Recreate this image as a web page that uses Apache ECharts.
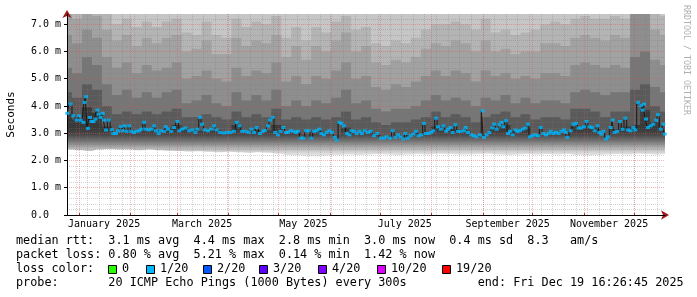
<!DOCTYPE html>
<html><head><meta charset="utf-8">
<script src="https://cdn.jsdelivr.net/npm/echarts@6/dist/echarts.min.js"></script>
<style>html,body{margin:0;padding:0;background:#fff}#c{width:697px;height:297px}</style>
</head><body><div id="c"></div>
<script>
// ---------- time frame ----------
const DAY = 86400000;
const START = Date.UTC(2024, 11, 24, 16, 26, 45);   // end - 360 days
const SPAN_DAYS = 360;
const Y_MAX = 7.375;

// ---------- axis ticks / labels ----------
const yTickValues = [0, 1, 2, 3, 4, 5, 6, 7];
const yTickLabels = ['0.0  ', '1.0 m', '2.0 m', '3.0 m', '4.0 m', '5.0 m', '6.0 m', '7.0 m'];
const yMinorValues = [0.2,0.4,0.6,0.8,1.2,1.4,1.6,1.8,2.2,2.4,2.6,2.8,3.2,3.4,3.6,3.8,4.2,4.4,4.6,4.8,5.2,5.4,5.6,5.8,6.2,6.4,6.6,6.8,7.2];
const monthStarts = ['2025-01-01','2025-02-01','2025-03-01','2025-04-01','2025-05-01','2025-06-01','2025-07-01','2025-08-01','2025-09-01','2025-10-01','2025-11-01','2025-12-01'];
const xLabelDates = ['2025-01-16','2025-03-16','2025-05-16','2025-07-16','2025-09-16','2025-11-16'];
const xLabelTexts = ['January 2025','March 2025','May 2025','July 2025','September 2025','November 2025'];
const firstMonday = '2024-12-30';

// ---------- median rtt (ms) ----------
const medDays = [0.2,2.2,3.8,5.8,7.2,8.2,9.8,10.6,11.4,12.6,13.8,14.7,15.9,17.1,18.3,19.1,20.3,21.5,22.3,23.5,25.1,26.9,27.9,29.5,30.7,32.3,33.5,34.7,35.9,37.5,38.7,40.3,41.9,43.6,44.8,46.4,47.6,49.2,50.8,52.4,53.6,55.2,56.4,58.4,
59.4,60.8,62.8,64.4,66.4,67.6,69.4,71.4,73.5,75.5,77.3,78.5,80.1,81.3,82.9,84.9,86.9,88.5,90.1,92.1,94.5,96.5,98.5,100.5,102.2,103.8,105.4,107.4,109.4,111.0,112.6,114.2,116.2,117.8,119.1,
121.0,122.2,123.8,125.4,127.0,128.6,130.2,131.8,133.1,134.7,136.3,137.9,139.1,140.7,142.3,143.9,145.5,147.1,148.7,150.3,151.9,153.1,154.7,156.3,157.9,159.5,161.1,162.4,164.0,165.2,166.8,168.4,170.0,171.2,172.8,174.4,176.0,177.6,179.3,
181.2,182.8,184.8,186.8,188.8,190.8,192.4,194.5,196.1,197.7,199.3,200.9,202.5,203.7,205.3,206.9,208.5,210.1,211.7,213.3,214.9,216.1,217.7,219.3,220.5,222.2,223.4,225.0,226.6,228.2,229.4,231.0,232.2,233.8,235.4,237.0,239.0,
240.0,241.4,243.4,245.0,246.6,248.6,250.2,251.0,252.6,254.3,255.9,257.1,258.7,260.3,261.5,262.7,264.3,265.5,266.7,268.3,269.9,271.1,272.7,274.3,275.9,277.5,278.7,280.3,281.9,283.6,285.2,286.8,288.4,290.0,291.2,292.8,294.4,296.0,297.6,299.2,
300.2,301.2,303.2,304.8,306.4,308.0,309.6,311.2,312.8,314.5,316.1,317.7,319.3,320.5,321.7,322.9,324.5,325.7,327.3,328.5,329.7,331.3,332.9,334.5,336.1,337.7,339.3,340.9,342.1,343.8,345.4,346.6,347.4,348.6,349.8,351.4,353.0,354.6,355.8,357.4,359.0,359.8];
const medMs = [3.73,4.07,3.64,3.48,3.64,3.48,3.40,4.13,4.34,3.18,3.58,3.43,3.43,3.52,3.85,3.70,3.58,3.73,3.48,3.12,3.48,3.13,2.99,2.99,3.09,3.24,3.09,3.27,3.07,3.27,3.07,3.03,3.07,3.09,3.15,3.40,3.15,3.12,3.15,3.27,3.09,2.99,3.09,3.07,
3.24,3.15,3.07,3.21,3.43,3.09,3.15,3.19,3.09,3.12,3.03,3.15,3.58,3.33,3.12,3.09,3.15,3.27,3.12,3.03,3.01,3.03,3.03,3.07,3.40,3.27,3.07,3.07,3.03,3.15,3.03,3.21,2.99,3.07,3.10,
3.27,3.48,3.58,3.03,2.94,3.07,3.21,3.03,3.03,3.09,3.07,3.03,3.07,2.82,2.82,3.09,3.09,2.82,3.07,3.09,3.15,2.99,2.94,3.03,3.09,3.03,2.85,2.75,3.40,3.36,3.27,2.99,2.94,3.09,3.07,2.99,3.07,2.99,3.09,
3.03,3.07,2.91,2.99,2.82,2.82,2.87,2.82,3.09,2.85,2.94,2.87,2.79,2.99,2.82,2.91,2.97,3.07,2.91,2.94,3.36,2.99,2.99,3.03,3.09,3.55,3.24,3.15,3.27,3.07,3.15,3.21,3.03,3.31,3.07,3.07,3.09,
3.21,3.03,2.94,2.91,2.87,2.94,3.82,2.85,2.94,3.03,3.19,3.33,3.15,3.31,3.40,3.24,3.46,2.99,3.07,2.94,3.12,3.07,3.09,3.15,3.19,3.33,2.87,2.91,2.94,2.91,3.21,2.99,2.94,2.99,3.07,2.99,3.03,2.99,3.07,3.12,
3.03,2.85,3.09,3.33,3.36,3.19,3.19,3.24,3.43,3.24,3.21,3.09,3.27,3.03,2.97,3.07,2.79,2.87,3.21,3.48,3.03,3.07,3.43,3.15,3.55,3.12,3.09,3.21,3.12,4.13,4.01,3.85,4.07,3.52,3.21,3.27,3.33,3.48,3.68,3.15,3.33,2.97];

// ---------- smoke (ping spread boundaries, ms) ----------
const smokeDays = [0,6,12,18,24,30,36,42,48,54,60,66,72,78,84,90,96,102,108,114,120,126,132,138,144,150,156,162,168,174,180,186,192,198,204,210,216,222,228,234,240,246,252,258,264,270,276,282,288,294,300,306,312,318,324,330,336,342,348,354,360];
const smokeLo = [2.40,2.38,2.35,2.40,2.42,2.40,2.40,2.38,2.40,2.38,2.36,
 2.35,2.33,2.34,2.32,2.30,2.32,2.30,2.28,2.30,
 2.28,2.25,2.20,2.18,2.15,2.15,2.18,2.20,2.22,2.20,
 2.22,2.24,2.22,2.20,2.22,2.24,2.22,2.25,2.24,2.22,
 2.22,2.24,2.25,2.22,2.20,2.22,2.24,2.22,2.24,2.22,
 2.24,2.20,2.18,2.20,2.22,2.24,2.22,2.25,2.24,2.22,2.24];
const smokeCore = [3.70,3.50,3.95,3.75,3.25,3.02,3.12,3.07,3.15,3.12,3.18,
 3.30,3.15,3.10,3.10,3.12,3.03,3.30,3.07,3.12,
 3.10,3.30,3.05,3.05,2.95,3.08,3.03,2.92,3.20,3.03,
 3.05,2.95,2.85,2.92,2.92,3.02,3.05,3.25,3.12,3.15,
 3.10,2.90,2.95,3.18,3.30,3.08,3.20,2.92,2.98,3.02,
 3.00,3.25,3.30,3.15,2.88,3.15,3.25,3.30,3.85,3.40,3.10];
const smokeHiA = [4.5,4.3,4.8,4.6,4.0,3.7,3.8,3.7,3.8,3.7,3.8,
 3.9,3.6,3.6,3.7,3.6,3.5,3.8,3.6,3.7,
 3.6,3.9,3.5,3.6,3.5,3.6,3.5,3.6,3.8,3.5,
 3.6,3.4,3.3,3.4,3.4,3.5,3.6,3.8,3.6,3.7,
 3.6,3.4,3.6,3.7,3.8,3.6,3.7,3.5,3.6,3.6,
 3.5,3.9,3.9,3.8,3.6,3.8,3.8,4.6,4.8,4.0,3.8];
const smokeHiB = [5.4,5.2,5.8,5.5,4.8,4.4,4.6,4.3,4.5,4.3,4.5,
 4.6,4.1,4.2,4.4,4.1,4.0,4.5,4.2,4.4,
 4.2,4.6,4.0,4.2,4.0,4.2,4.1,4.3,4.6,4.1,
 4.2,3.9,3.8,3.9,3.9,4.0,4.2,4.4,4.2,4.3,
 4.2,4.0,4.3,4.2,4.4,4.1,4.3,4.1,4.2,4.2,
 4.1,4.5,4.6,4.5,4.4,4.5,4.5,5.8,6.0,4.7,4.5];
const smokeHiC = [6.6,6.3,6.8,6.5,5.8,5.4,5.6,5.2,5.5,5.3,5.4,
 5.6,5.0,5.1,5.3,5.0,4.9,5.4,5.1,5.3,
 5.2,5.6,4.9,5.1,4.8,5.1,5.0,5.3,5.6,5.0,
 5.1,4.7,4.6,4.8,4.7,4.9,5.1,5.3,5.1,5.3,
 5.2,4.9,5.3,5.1,5.2,5.0,5.1,5.0,5.2,5.2,
 5.1,5.5,5.6,5.5,5.4,5.5,5.4,7.6,7.6,5.7,5.5];
const smokeHiD = [7.4,7.2,7.4,7.3,6.8,6.4,6.6,6.2,6.5,6.3,6.5,
 6.6,6.0,6.1,6.4,5.9,5.9,6.5,6.2,6.4,
 6.3,6.6,5.8,6.2,5.7,6.2,6.0,6.4,6.7,6.0,
 6.2,5.6,5.5,5.7,5.6,5.8,6.1,6.3,6.2,6.4,
 6.3,6.0,6.4,6.0,6.1,5.9,6.0,6.0,6.3,6.3,
 6.2,6.5,6.6,6.5,6.4,6.6,6.5,7.6,7.6,6.8,6.6];
const smokeHiE = [7.6,7.6,7.6,7.6,7.6,7.0,7.2,6.9,7.1,6.9,7.1,
 7.2,6.7,6.6,7.1,6.6,6.5,7.2,6.9,7.1,
 7.0,7.3,6.5,6.9,6.4,6.9,6.7,7.1,7.3,6.8,
 6.9,6.3,6.2,6.4,6.3,6.5,6.8,7.0,7.0,7.1,
 7.0,6.8,7.2,6.7,6.8,6.6,6.7,6.8,7.0,7.1,
 7.0,7.2,7.3,7.2,7.2,7.3,7.2,7.6,7.6,7.6,7.3];
const smokeTop = 7.6;

// ---------- legend ----------
const legendRow1 = 'median rtt:  3.1 ms avg  4.4 ms max  2.8 ms min  3.0 ms now  0.4 ms sd  8.3   am/s';
const legendRow2 = 'packet loss: 0.80 % avg  5.21 % max  0.14 % min  1.42 % now';
const legendRow3 = 'loss color:';
const lossLabels = ['0', '1/20', '2/20', '3/20', '4/20', '10/20', '19/20'];
const lossColors = ['#26ff00', '#00b8ff', '#0059ff', '#5e00ff', '#7e00ff', '#dd00ff', '#ff0000'];
const lossBoxX = [108, 146, 203, 259, 318, 377, 442];
const legendRow4 = 'probe:       20 ICMP Echo Pings (1000 Bytes) every 300s          end: Fri Dec 19 16:26:45 2025';
const watermark = 'RRDTOOL / TOBI OETIKER';

// ---------- build ----------
const MONO = '"DejaVu Sans Mono", monospace';
const dayOf = s => (Date.parse(s + 'T00:00:00Z') - START) / DAY;
const monthStartDays = monthStarts.map(dayOf);
const xLabelDays = xLabelDates.map(dayOf);
const mondayDays = [];
for (let d = dayOf(firstMonday); d < SPAN_DAYS; d += 7) mondayDays.push(d);

const pairs = (xs, ys) => xs.map((x, i) => [x, ys[i]]);
const topArr = smokeDays.map(() => smokeTop);

// each boundary is an area filled down to 0; later (lower) boundaries are painted over earlier ones
function layer(name, vals, color) {
  return {
    type: 'line', name, step: 'middle', data: pairs(smokeDays, vals),
    symbol: 'none', silent: true, z: 2, clip: true,
    lineStyle: { width: 0 },
    areaStyle: { color, opacity: 1, origin: 'start' }
  };
}

const chart = echarts.init(document.getElementById('c'), null, { renderer: 'canvas', width: 697, height: 297 });

const redGrid = { color: 'rgba(225,80,80,0.42)', width: 1, type: [1, 1] };
const grayGrid = { color: 'rgba(120,120,120,0.32)', width: 1, type: [1, 1] };

const option = {
  animation: false,
  backgroundColor: '#ffffff',
  grid: { left: 67, right: 32, top: 14, bottom: 82, outerBoundsMode: 'none', containLabel: false },
  xAxis: [
    { type: 'value', min: 0, max: SPAN_DAYS, position: 'bottom', z: 5,
      axisLine: { show: true, onZero: false, lineStyle: { color: '#000', width: 1 } },
      axisTick: { show: true, inside: true, length: 2, customValues: monthStartDays, lineStyle: { color: '#c03030' } },
      axisLabel: { customValues: xLabelDays, formatter: v => xLabelTexts[xLabelDays.indexOf(v)] || '',
                   fontFamily: MONO, fontSize: 10, color: '#000', margin: 4 },
      splitLine: { show: true, lineStyle: redGrid } },
    { type: 'value', min: 0, max: SPAN_DAYS, position: 'bottom', z: 4,
      axisLine: { show: false }, axisLabel: { show: false },
      axisTick: { show: false, customValues: mondayDays },
      splitLine: { show: true, lineStyle: grayGrid } },
    { type: 'value', min: 0, max: SPAN_DAYS, position: 'bottom', z: 3,
      axisLine: { show: true, onZero: false, symbol: ['none', 'arrow'], symbolSize: [7, 8], symbolOffset: [0, 4],
                  lineStyle: { color: '#a01818', width: 1 } },
      axisLabel: { show: false }, axisTick: { show: false }, splitLine: { show: false } }
  ],
  yAxis: [
    { type: 'value', min: 0, max: Y_MAX, position: 'left', z: 5,
      name: 'Seconds', nameLocation: 'middle', nameGap: 50,
      nameTextStyle: { fontFamily: MONO, fontSize: 11, color: '#000' },
      axisLine: { show: true, onZero: false, lineStyle: { color: '#000', width: 1 } },
      axisTick: { show: true, length: 3, customValues: yTickValues, lineStyle: { color: '#000' } },
      axisLabel: { customValues: yTickValues, formatter: v => yTickLabels[yTickValues.indexOf(v)] || '',
                   fontFamily: MONO, fontSize: 10, color: '#000', margin: 6 },
      splitLine: { show: true, lineStyle: redGrid } },
    { type: 'value', min: 0, max: Y_MAX, position: 'left', z: 4,
      axisLine: { show: false }, axisLabel: { show: false },
      axisTick: { show: false, customValues: yMinorValues },
      splitLine: { show: true, lineStyle: grayGrid } },
    { type: 'value', min: 0, max: Y_MAX, position: 'left', z: 3,
      axisLine: { show: true, onZero: false, symbol: ['none', 'arrow'], symbolSize: [7, 8], symbolOffset: [0, 4],
                  lineStyle: { color: '#a01818', width: 1 } },
      axisLabel: { show: false }, axisTick: { show: false }, splitLine: { show: false } }
  ],
  series: [
    layer('top', topArr, '#c6c6c6'),
    layer('e', smokeHiE, '#b4b4b4'),
    layer('d', smokeHiD, '#a2a2a2'),
    layer('c', smokeHiC, '#8e8e8e'),
    layer('b', smokeHiB, '#767676'),
    layer('a', smokeHiA, '#5a5a5a'),
    layer('core', smokeCore, '#555'),
    layer('lo', smokeLo, '#ffffff'),
    { type: 'line', name: 'medianLine', step: 'middle', data: pairs(medDays, medMs), symbol: 'none', silent: true, z: 8,
      lineStyle: { color: '#1a1a1a', width: 1 } },
    { type: 'scatter', name: 'median', data: pairs(medDays, medMs), symbol: 'rect', symbolSize: [4, 3], silent: true, z: 9,
      itemStyle: { color: '#00b8ff' } }
  ],
  graphic: []
};

// legend / annotation texts
const g = [];
const txt = (x, y, text, extra) => g.push(Object.assign({ type: 'text', x, y, silent: true,
  style: { text, font: '11.8px ' + MONO, fill: '#000', verticalAlign: 'middle', align: 'left' } }, extra || {}));
txt(16, 241, legendRow1);
txt(16, 255, legendRow2);
txt(16, 269, legendRow3);
lossLabels.forEach((lab, i) => {
  g.push({ type: 'rect', silent: true, shape: { x: lossBoxX[i] + 0.5, y: 265.5, width: 8, height: 8 },
           style: { fill: lossColors[i], stroke: '#000', lineWidth: 1 } });
  txt(lossBoxX[i] + 14, 269, lab);
});
txt(16, 283, legendRow4);
g.push({ type: 'text', x: 686, y: 5, rotation: -Math.PI / 2, silent: true,
         style: { text: watermark, font: '8.3px ' + MONO, fill: '#b0b0b0', align: 'left', verticalAlign: 'middle' } });
option.graphic = g;

chart.setOption(option);

// lower smoke: vertical gradient bound to the value scale
const yTopPx = chart.convertToPixel({ yAxisIndex: 0 }, 3.15);
const yBotPx = chart.convertToPixel({ yAxisIndex: 0 }, 2.15);
const coreIdx = option.series.findIndex(s => s.name === 'core');
const upd = option.series.map(() => ({}));
upd[coreIdx] = { areaStyle: { opacity: 1, origin: 'start', color: {
  type: 'linear', global: true, x: 0, y: yTopPx, x2: 0, y2: yBotPx,
  colorStops: [
    { offset: 0, color: '#3a3a3a' }, { offset: 0.2, color: '#484848' }, { offset: 0.4, color: '#6c6c6c' },
    { offset: 0.6, color: '#9a9a9a' }, { offset: 0.75, color: '#bfbfbf' }, { offset: 0.88, color: '#dadada' },
    { offset: 1, color: '#ececec' } ] } } };
chart.setOption({ series: upd });
</script>
</body></html>
